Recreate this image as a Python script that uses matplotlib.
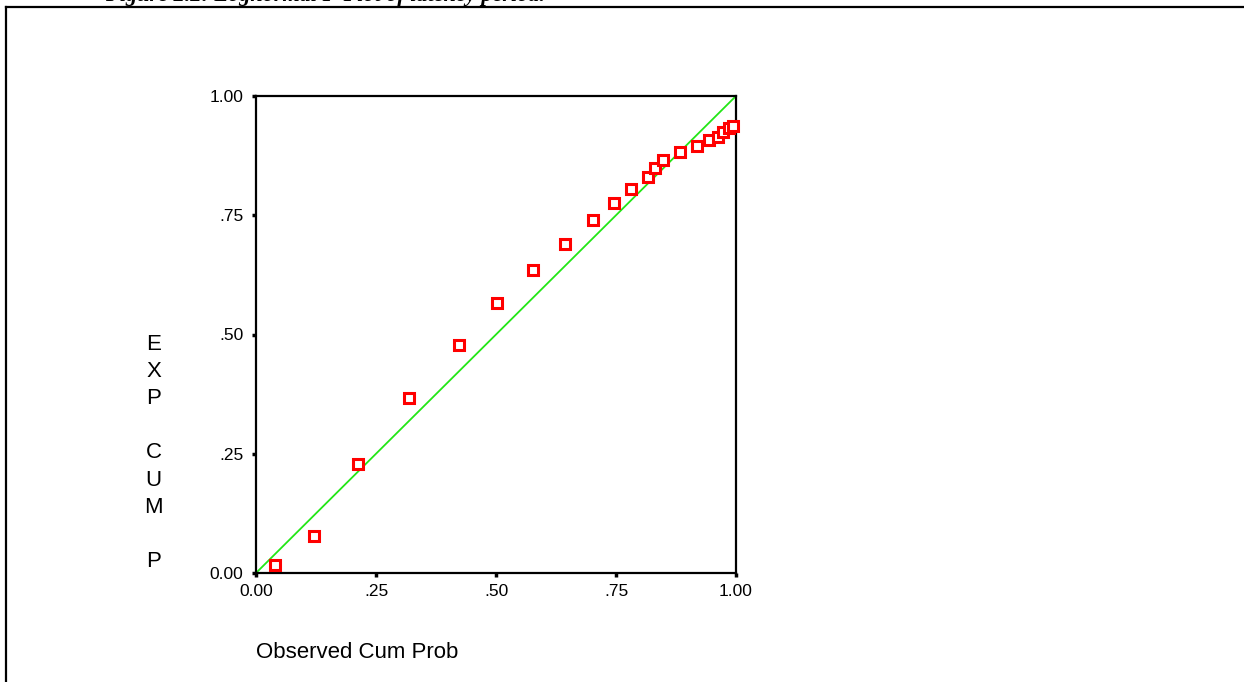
"""Lognormal P-P plot of latency period: expected vs observed cumulative probability."""

import matplotlib
matplotlib.use("Agg")
import matplotlib.pyplot as plt
from matplotlib.lines import Line2D

plt.rcParams["font.family"] = ["Liberation Sans", "DejaVu Sans"]

# observed and expected cumulative probabilities
observed_cum = [0.040, 0.121, 0.2125, 0.319, 0.423, 0.502, 0.577, 0.644, 0.702,
                0.746, 0.781, 0.817, 0.831, 0.848, 0.883, 0.919, 0.944, 0.9625,
                0.973, 0.985, 0.994]
expected_cum = [0.017, 0.078, 0.2285, 0.367, 0.478, 0.566, 0.635, 0.690, 0.740,
                0.776, 0.805, 0.830, 0.849, 0.866, 0.883, 0.895, 0.908, 0.914,
                0.925, 0.933, 0.937]
tick_values = [0.0, 0.25, 0.5, 0.75, 1.0]
tick_labels = ["0.00", ".25", ".50", ".75", "1.00"]

fig = plt.figure(figsize=(12.44, 6.82), dpi=100)
ax = fig.add_axes([256 / 1244, 1 - 573 / 682, 480 / 1244, 477 / 682])

# reference diagonal
ax.plot([0, 1], [0, 1], color="#22e616", linewidth=1.3, zorder=2)
ax.plot(observed_cum, expected_cum, linestyle="none", marker="s",
        markersize=7, markerfacecolor="white", markeredgecolor="#ff0000",
        markeredgewidth=2.2, zorder=3, clip_on=False)

ax.set_xlim(0, 1)
ax.set_ylim(0, 1)
ax.set_xticks(tick_values)
ax.set_xticklabels(tick_labels)
ax.set_yticks(tick_values)
ax.set_yticklabels(tick_labels)
ax.tick_params(direction="out", length=3, width=2.5, labelsize=12.5)
ax.tick_params(axis="y", pad=6)
ax.tick_params(axis="x", pad=5)
for spine in ax.spines.values():
    spine.set_linewidth(1.6)

ax.text(-0.213, 0.2516, "E\nX\nP\n\nC\nU\nM\n\nP", transform=ax.transAxes,
        fontsize=16, ha="center", va="center", linespacing=1.385)
fig.text(256 / 1244, 1 - 652 / 682, "Observed Cum Prob", fontsize=16,
         ha="left", va="center")

# page frame around the figure
fig.add_artist(Line2D([5.5 / 1244, 5.5 / 1244], [-0.05, 1 - 6.5 / 682],
                      color="black", linewidth=1.6, transform=fig.transFigure))
fig.add_artist(Line2D([5.5 / 1244, 1.05], [1 - 6.5 / 682, 1 - 6.5 / 682],
                      color="black", linewidth=1.6, transform=fig.transFigure))

# caption, clipped at the top edge
fig.text(105 / 1244, 1 - 1.5 / 682,
         "Figure 2.2: Lognormal P-Plot of latency period.",
         fontsize=16, fontweight="bold", fontstyle="italic",
         family=["Liberation Serif", "DejaVu Serif"], ha="left", va="baseline")

fig.savefig("out.png", dpi=100)
